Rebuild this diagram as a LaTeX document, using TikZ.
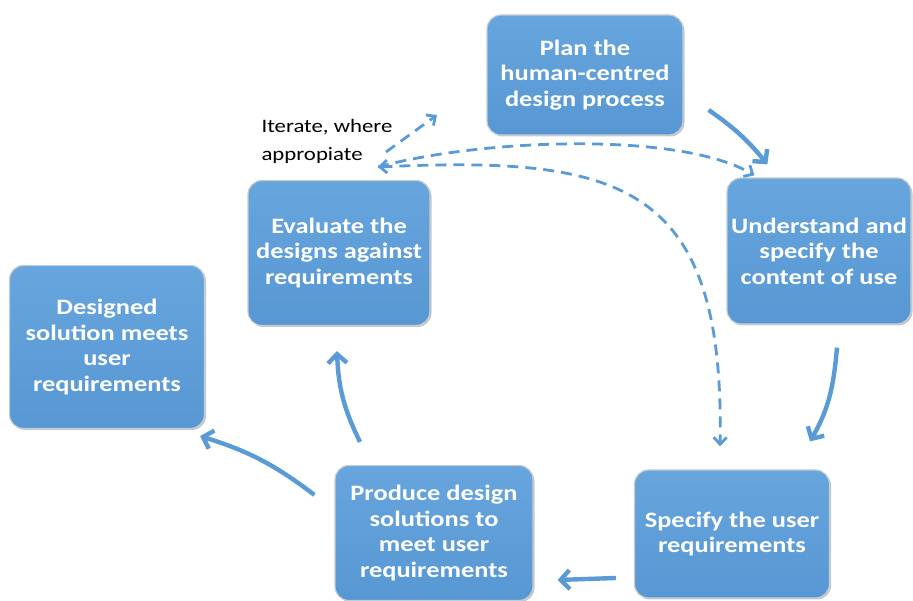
\documentclass[tikz,border=0pt]{standalone}
\usepackage{fontspec}
\setmainfont{Carlito}[FakeStretch=1.2]
\usetikzlibrary{positioning, arrows.meta, calc, shadows}

\definecolor{boxblue}{HTML}{5797D3}
\definecolor{boxtop}{HTML}{67A5DD}
\definecolor{boxline}{HTML}{C4CCD4}
\definecolor{arrowblue}{HTML}{5B9BD5}

\tikzset{
  stage/.style={draw=boxline,line width=1.2pt,rounded corners=14pt,top color=boxtop,bottom color=boxblue,
    text=white,align=center,inner sep=2pt,font=\fontsize{22}{25.5}\selectfont\bfseries,
    drop shadow={shadow xshift=1.5pt,shadow yshift=-1.5pt,opacity=0.45}},
  flow/.style={draw=arrowblue,line width=4.4pt,-{Straight Barb[length=9pt,width=19pt]}},
  iterline/.style={draw=arrowblue,line width=2.8pt,dash pattern=on 11pt off 7pt,-{Straight Barb[length=7pt,width=13pt]}}
}

\begin{document}
\begin{tikzpicture}[x=1pt,y=1pt]
\useasboundingbox (0,0) rectangle (913,601);

% the six stages
\node[stage,minimum width=196,minimum height=120] (plan) at (585,526) {Plan the\\human-centred\\design process};
\node[stage,minimum width=184,minimum height=146] (underst) at (819,350) {Understand and\\specify the\\content of use};
\node[stage,minimum width=195,minimum height=128] (specify) at (732,67) {Specify the user\\requirements};
\node[stage,minimum width=198,minimum height=135] (produce) at (434,68) {Produce design\\solutions to\\meet user\\requirements};
\node[stage,minimum width=182,minimum height=145] (evaluate) at (339,348) {Evaluate the\\designs against\\requirements};
\node[stage,minimum width=195,minimum height=163] (designed) at (107,254) {Designed\\solution meets\\user\\requirements};

% main cycle
\draw[flow] ($(plan.east)+(25,-35)$) to[bend left=8] ($(underst.north west)+(41,13)$);
\draw[flow] ($(underst.south)+(18,-23)$) to[out=-95,in=60] ($(specify.north)+(78,28)$);
\draw[flow] ($(specify.west)+(-18,-44)$) -- ($(produce.east)+(24,-47)$);
\draw[flow] ($(produce.north)+(-74,23)$) to[bend left=12] ($(evaluate.south)+(-2,-25)$);
\draw[flow] ($(produce.north west)+(-20,-30)$) to[bend right=10] ($(designed.south east)+(-5,-7)$);

% iteration
\node[anchor=west,align=left,font=\fontsize{19}{28}\selectfont] (iterlabel) at (258,460) {Iterate, where\\appropiate};
\coordinate (iter) at (378,434);
\coordinate (toplan) at (437,486);
\draw[iterline] ($(iter)+(8,15)$) -- (toplan);
\draw[iterline] (iter) .. controls (480,462) and (680,470) .. ($(underst.north west)+(28,2)$);
\draw[iterline,{Straight Barb[length=7pt,width=13pt]}-{Straight Barb[length=7pt,width=13pt]}] (iter) .. controls (620,445) and (725,420) .. ($(specify.north)+(-12,23)$);
\end{tikzpicture}
\end{document}
